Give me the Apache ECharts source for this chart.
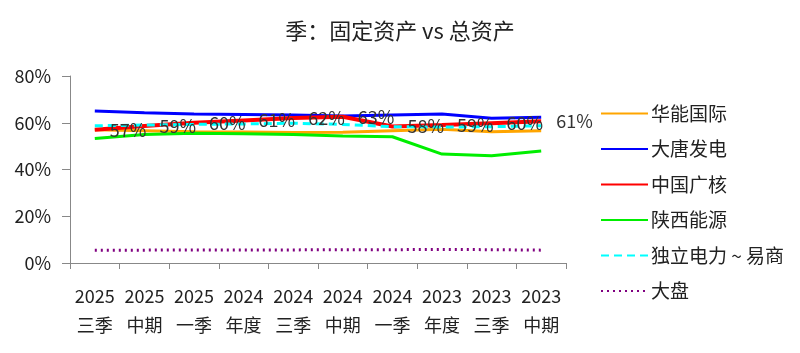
<!DOCTYPE html>
<html>
<head>
<meta charset="utf-8">
<script src="https://cdn.jsdelivr.net/npm/echarts@6/dist/echarts.min.js"></script>
<style>
  html, body { margin: 0; padding: 0; background: #fff; }
  #eChart { width: 800px; height: 353px; }
</style>
</head>
<body>
<div id="eChart"></div>
<script>
// categories (x axis, two-line labels)
var categories = ['2025\n三季', '2025\n中期', '2025\n一季', '2024\n年度', '2024\n三季',
                  '2024\n中期', '2024\n一季', '2023\n年度', '2023\n三季', '2023\n中期'];

// fixed assets / total assets, in %
var huaneng  = [57.0, 56.6, 56.1, 56.0, 55.8, 55.9, 56.6, 57.2, 56.2, 56.6];
var datang   = [65.0, 64.3, 63.7, 63.5, 63.3, 62.9, 63.3, 63.7, 61.9, 62.3];
var cgn      = [57.0, 58.6, 60.0, 61.0, 62.0, 62.6, 58.4, 59.0, 59.8, 60.6];
var shaanxi  = [53.3, 55.0, 55.5, 55.3, 55.0, 54.3, 54.0, 46.6, 45.9, 47.9];
var duli     = [58.7, 59.0, 59.3, 59.5, 59.8, 59.3, 58.3, 58.2, 58.3, 58.7];
var dapan    = [5.5, 5.5, 5.6, 5.6, 5.6, 5.7, 5.7, 5.8, 5.7, 5.5];

var yTicks = [0, 20, 40, 60, 80];

var font = "'Noto Sans CJK SC', 'Noto Sans', sans-serif";

function line(name, data, color, width, type) {
    return {
        name: name,
        type: 'line',
        data: data,
        symbol: 'circle',
        symbolSize: 0,
        showSymbol: true,
        lineStyle: { color: color, width: width, type: type || 'solid' },
        itemStyle: { color: color }
    };
}

var cgnSeries = line('中国广核', cgn, '#ff0000', 4);
cgnSeries.label = {
    show: true,
    position: 'right',
    distance: 15,
    fontSize: 18,
    fontFamily: font,
    color: '#333',
    formatter: function (p) { return Math.round(p.value) + '%'; }
};

var option = {
    animation: false,
    title: {
        text: '季：固定资产 vs 总资产',
        left: 'center',
        top: 15,
        textStyle: { fontSize: 22, fontWeight: 'normal', color: '#222', fontFamily: font }
    },
    legend: {
        orient: 'vertical',
        left: 595,
        top: 99,
        itemWidth: 47,
        itemHeight: 4,
        itemGap: 16.5,
        itemStyle: { opacity: 0 },
        textStyle: { fontSize: 19, color: '#222', fontFamily: font, lineHeight: 19, padding: [0, 0, 0, -2] },
        data: ['华能国际', '大唐发电', '中国广核', '陕西能源', '独立电力 ~ 易商', '大盘']
    },
    grid: { left: 70, right: 234, top: 76, bottom: 90 },
    xAxis: {
        type: 'category',
        data: categories,
        boundaryGap: true,
        axisLine: { lineStyle: { color: '#888' } },
        axisTick: { show: true, length: 6, lineStyle: { color: '#888' } },
        axisLabel: {
            interval: 0,
            margin: 19,
            fontSize: 18,
            lineHeight: 29,
            color: '#222',
            fontFamily: font
        }
    },
    yAxis: {
        type: 'value',
        min: yTicks[0],
        max: yTicks[yTicks.length - 1],
        interval: 20,
        axisLine: { show: true, lineStyle: { color: '#888' } },
        axisTick: { show: true, length: 8, lineStyle: { color: '#888' } },
        splitLine: { show: false },
        axisLabel: {
            fontSize: 18,
            color: '#222',
            margin: 19,
            fontFamily: font,
            formatter: '{value}%'
        }
    },
    series: [
        line('华能国际', huaneng, '#ffa500', 3),
        line('大唐发电', datang, '#0000ff', 3),
        cgnSeries,
        line('陕西能源', shaanxi, '#00ee00', 3),
        line('独立电力 ~ 易商', duli, '#00ffff', 3, [8, 5]),
        line('大盘', dapan, '#800080', 3, [2, 4])
    ]
};

var chart = echarts.init(document.getElementById('eChart'));
chart.setOption(option);
</script>
</body>
</html>
